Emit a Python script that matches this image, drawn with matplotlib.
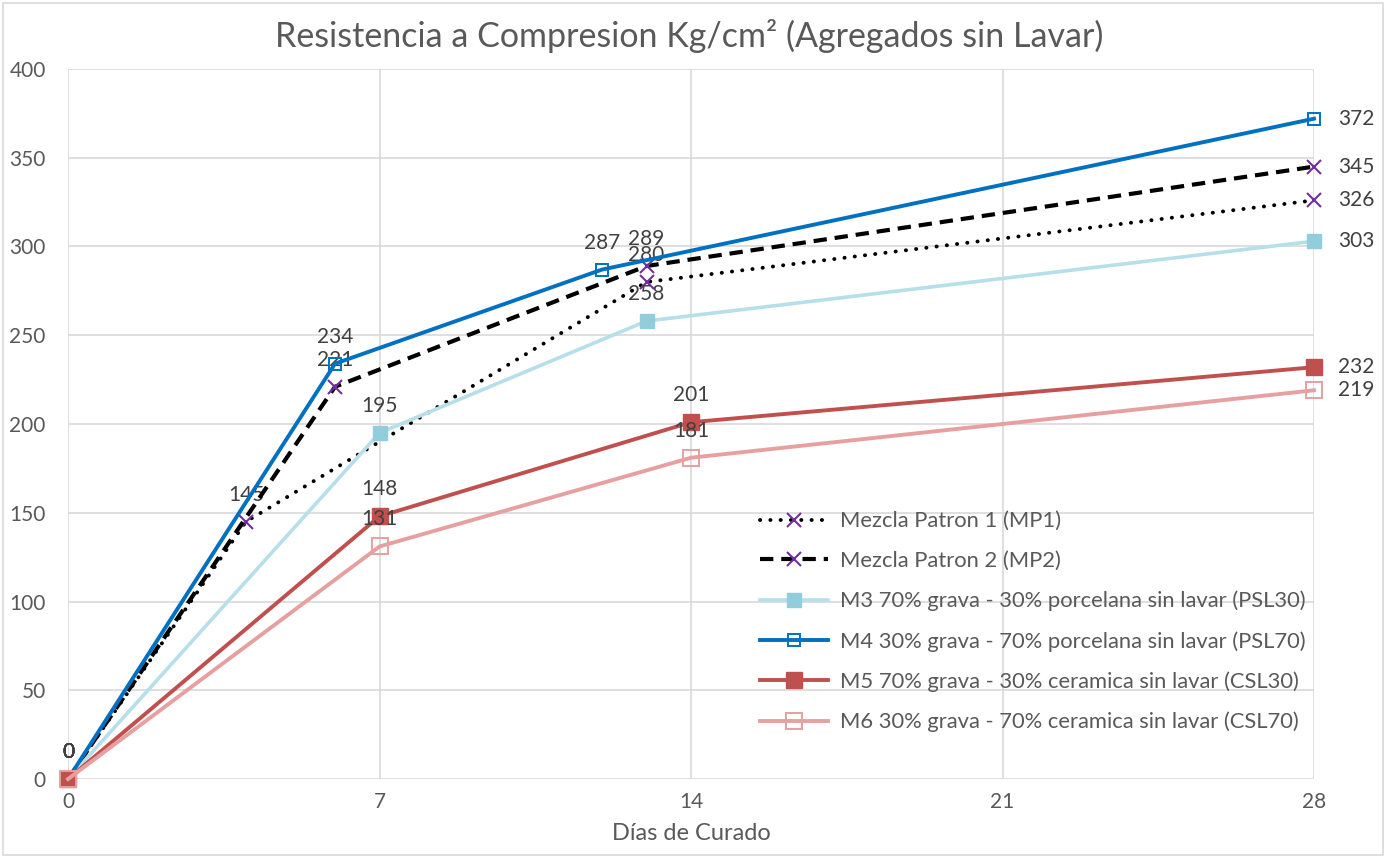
import matplotlib.pyplot as plt
from matplotlib.patches import Rectangle

plt.rcParams['font.family'] = ['Lato', 'DejaVu Sans']

# días de curado y resistencia (kg/cm2) por mezcla
dias_mp1 = [0, 4, 13, 28]
mp1 = [0, 145, 280, 326]
dias_mp2 = [0, 6, 13, 28]
mp2 = [0, 221, 289, 345]
dias_m3 = [0, 7, 13, 28]
m3 = [0, 195, 258, 303]
dias_m4 = [0, 6, 12, 28]
m4 = [0, 234, 287, 372]
dias_m5 = [0, 7, 14, 28]
m5 = [0, 148, 201, 232]
dias_m6 = [0, 7, 14, 28]
m6 = [0, 131, 181, 219]

nombres = [
    'Mezcla Patron 1 (MP1)',
    'Mezcla Patron 2 (MP2)',
    'M3 70% grava - 30% porcelana sin lavar (PSL30)',
    'M4 30% grava - 70% porcelana sin lavar (PSL70)',
    'M5 70% grava - 30% ceramica sin lavar (CSL30)',
    'M6 30% grava - 70% ceramica sin lavar (CSL70)',
]
x_ticks = [0, 7, 14, 21, 28]
y_ticks = [0, 50, 100, 150, 200, 250, 300, 350, 400]

fig = plt.figure(figsize=(13.89, 8.57), dpi=100)
ax = fig.add_axes([0.049, 0.091, 0.897, 0.8285])

morado = '#7030A0'
series = [
    (dias_mp1, mp1, dict(color='black', ls=(0, (0.05, 2.6)), lw=2.8, marker='x',
                         ms=10, mec=morado, mew=1.5, dash_capstyle='round')),
    (dias_mp2, mp2, dict(color='black', ls=(0, (3.2, 1.9)), lw=3.0, marker='x',
                         ms=10, mec=morado, mew=1.5)),
    (dias_m3, m3, dict(color='#b7dfe9', lw=2.6, marker='s', ms=10,
                       mfc='#92cddc', mec='#92cddc')),
    (dias_m4, m4, dict(color='#0070c0', lw=2.8, marker='s', ms=9,
                       mfc='none', mec='#0070c0', mew=1.4)),
    (dias_m5, m5, dict(color='#c0504d', lw=2.8, marker='s', ms=11,
                       mfc='#c0504d', mec='#c0504d')),
    (dias_m6, m6, dict(color='#e6a0a0', lw=2.8, marker='s', ms=11,
                       mfc='none', mec='#e6a0a0', mew=1.4)),
]

for (xs, ys, estilo), nombre in zip(series, nombres):
    ax.plot(xs, ys, label=nombre, zorder=3, clip_on=False, **estilo)
    for i, (x, y) in enumerate(zip(xs, ys)):
        if i == len(xs) - 1:
            ax.annotate(str(y), (x, y), xytext=(24, 0), textcoords='offset pixels',
                        ha='left', va='center', fontsize=15, color='#404040')
        else:
            ax.annotate(str(y), (x, y), xytext=(0, 27), textcoords='offset pixels',
                        ha='center', va='center', fontsize=15, color='#404040')

ax.set_xlim(0, 28)
ax.set_ylim(0, 400)
ax.set_xticks(x_ticks)
ax.set_yticks(y_ticks)
ax.tick_params(length=0, labelsize=15, labelcolor='#595959')
ax.tick_params(axis='x', pad=9)
ax.tick_params(axis='y', pad=16)
ax.grid(True, color='#d9d9d9', lw=1.2)
ax.set_axisbelow(True)
for s in ax.spines.values():
    s.set_visible(False)

ax.set_xlabel('Días de Curado', fontsize=17, color='#595959', labelpad=8)
fig.text(0.496, 0.958, 'Resistencia a Compresion Kg/cm² (Agregados sin Lavar)',
         ha='center', va='center', fontsize=24.5, color='#595959')

leg = ax.legend(loc='upper left', bbox_to_anchor=(0.555, 0.377), frameon=False,
                fontsize=15.8, handlelength=3.1, labelspacing=0.9,
                handletextpad=0.55, borderpad=0, borderaxespad=0)
for t in leg.get_texts():
    t.set_color('#595959')

fig.patches.append(Rectangle((0.002, 0.002), 0.994, 0.994, transform=fig.transFigure,
                             fill=False, edgecolor='#d9d9d9', lw=1.2))

fig.savefig('out.png', dpi=100)
